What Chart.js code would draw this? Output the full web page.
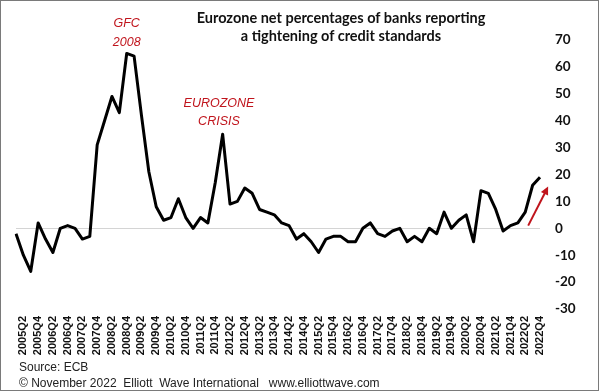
<!DOCTYPE html>
<html>
<head>
<meta charset="utf-8">
<script src="https://cdn.jsdelivr.net/npm/chart.js@4.4.0/dist/chart.umd.min.js"></script>
<style>
  body { margin: 0; background: #fff; }
  #wrap { position: relative; width: 600px; height: 392px; }
  #frame { position: absolute; left: 0; top: 0; width: 597px; height: 389px; border: 1px solid #7a7a7a; pointer-events: none; }
  #title { position: absolute; left: 141px; top: 9px; width: 400px; text-align: center;
           font: bold 14.5px Lato, "Open Sans", sans-serif; line-height: 18px; color: #111; }
  #foot { position: absolute; left: 19px; top: 359px; font: 12px "Liberation Sans", Arial, sans-serif;
          line-height: 16px; color: #222; white-space: pre; }
</style>
</head>
<body>
<div id="wrap">
  <canvas id="myChart"></canvas>
  <div id="title">Eurozone net percentages of banks reporting<br>a tightening of credit standards</div>
  <div id="foot">Source: ECB
© November 2022  Elliott  Wave International   www.elliottwave.com</div>
  <div id="frame"></div>
</div>
<script>
// quarters shown on the x axis (every other one gets a label)
var quarters = [
  "2005Q1","2005Q2","2005Q3","2005Q4","2006Q1","2006Q2","2006Q3","2006Q4",
  "2007Q1","2007Q2","2007Q3","2007Q4","2008Q1","2008Q2","2008Q3","2008Q4",
  "2009Q1","2009Q2","2009Q3","2009Q4","2010Q1","2010Q2","2010Q3","2010Q4",
  "2011Q1","2011Q2","2011Q3","2011Q4","2012Q1","2012Q2","2012Q3","2012Q4",
  "2013Q1","2013Q2","2013Q3","2013Q4","2014Q1","2014Q2","2014Q3","2014Q4",
  "2015Q1","2015Q2","2015Q3","2015Q4","2016Q1","2016Q2","2016Q3","2016Q4",
  "2017Q1","2017Q2","2017Q3","2017Q4","2018Q1","2018Q2","2018Q3","2018Q4",
  "2019Q1","2019Q2","2019Q3","2019Q4","2020Q1","2020Q2","2020Q3","2020Q4",
  "2021Q1","2021Q2","2021Q3","2021Q4","2022Q1","2022Q2","2022Q3","2022Q4"
];

// net % of banks tightening
var netTightening = [
  -2, -10, -16, 2, -4, -9, 0, 1,
  0, -4, -3, 31, 40, 49, 43, 65,
  64, 42, 21, 8, 3, 4, 11, 4,
  0, 4, 2, 17, 35, 9, 10, 15,
  13, 7, 6, 5, 2, 1, -4, -2,
  -5, -9, -4, -3, -3, -5, -5, 0,
  2, -2, -3, -1, 0, -5, -3, -5,
  0, -2, 6, 0, 3, 5, -5, 14,
  13, 7, -1, 1, 2, 6, 16, 19
];

var yMin = -30, yMax = 70, yStep = 10;

// text notes, placed in data units: [text, index, value]
var notes = [
  ["GFC", 15, 76],
  ["2008", 15, 69],
  ["EUROZONE", 27.5, 46.5],
  ["CRISIS", 27.5, 39.8]
];
// red arrow: from [index, value] to [index, value]
var arrowFrom = [69.4, 1];
var arrowTo = [72.1, 15.5];

var notesPlugin = {
  id: 'notes',
  afterDatasetsDraw: function (chart) {
    var c = chart.ctx, xs = chart.scales.x, ys = chart.scales.y;
    c.save();
    c.fillStyle = '#c0141c';
    c.font = 'italic 12.5px "Liberation Sans", Arial, sans-serif';
    c.textAlign = 'center';
    c.textBaseline = 'middle';
    notes.forEach(function (n) {
      c.fillText(n[0], xs.getPixelForValue(n[1]), ys.getPixelForValue(n[2]));
    });

    var x1 = xs.getPixelForValue(arrowFrom[0]), y1 = ys.getPixelForValue(arrowFrom[1]);
    var x2 = xs.getPixelForValue(arrowTo[0]), y2 = ys.getPixelForValue(arrowTo[1]);
    var a = Math.atan2(y2 - y1, x2 - x1);
    c.strokeStyle = '#c0141c';
    c.lineWidth = 2;
    c.beginPath();
    c.moveTo(x1, y1);
    c.lineTo(x2 - 6 * Math.cos(a), y2 - 6 * Math.sin(a));
    c.stroke();
    c.beginPath();
    c.moveTo(x2, y2);
    c.lineTo(x2 - 8 * Math.cos(a) + 4 * Math.sin(a), y2 - 8 * Math.sin(a) - 4 * Math.cos(a));
    c.lineTo(x2 - 8 * Math.cos(a) - 4 * Math.sin(a), y2 - 8 * Math.sin(a) + 4 * Math.cos(a));
    c.closePath();
    c.fill();
    c.restore();
  }
};

var ctx = document.getElementById('myChart');
var myChart = new Chart(ctx, {
  type: 'line',
  data: {
    labels: quarters,
    datasets: [{
      data: netTightening,
      borderColor: '#000',
      borderWidth: 3,
      borderJoinStyle: 'round',
      pointRadius: 0,
      tension: 0,
      fill: false
    }]
  },
  options: {
    responsive: true,
    maintainAspectRatio: false,
    animation: false,
    layout: { padding: { left: 16, top: 40, right: 0, bottom: 0 } },
    plugins: {
      legend: { display: false },
      title: { display: false },
      tooltip: { enabled: false }
    },
    scales: {
      x: {
        grid: { display: false, drawTicks: false },
        border: { display: false },
        afterFit: function (s) { s.height = 83; },
        ticks: {
          autoSkip: false,
          maxRotation: 90,
          minRotation: 90,
          padding: 7,
          color: '#111',
          font: { family: '"Liberation Sans", Arial, sans-serif', size: 11, weight: 'bold' },
          callback: function (v, i) { return i % 2 === 1 ? quarters[i] : ''; }
        }
      },
      y: {
        position: 'right',
        min: yMin,
        max: yMax,
        afterFit: function (s) { s.width = 60; },
        border: { display: false },
        grid: {
          drawTicks: false,
          color: function (c) { return c.tick && c.tick.value === 0 ? '#d4d4d4' : 'rgba(0,0,0,0)'; },
          lineWidth: 1
        },
        ticks: {
          stepSize: yStep,
          padding: 15,
          color: '#111',
          font: { family: 'Lato, "Open Sans", sans-serif', size: 13.5, weight: 'bold' }
        }
      }
    }
  },
  plugins: [notesPlugin]
});
</script>
</body>
</html>
